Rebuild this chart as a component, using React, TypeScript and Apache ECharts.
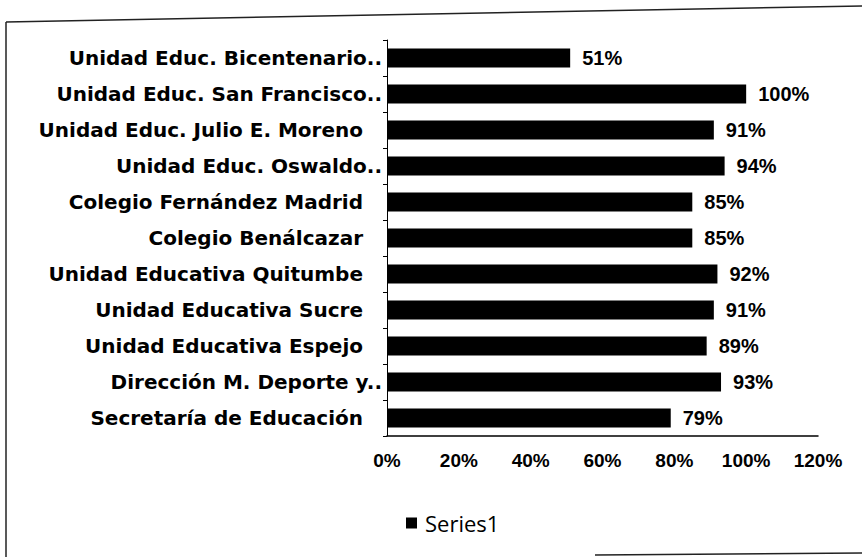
import React, { useEffect, useRef } from "react";
import * as echarts from "echarts";

const categories = [
  "Unidad Educ. Bicentenario..",
  "Unidad Educ. San Francisco..",
  "Unidad Educ. Julio E. Moreno",
  "Unidad Educ. Oswaldo..",
  "Colegio Fernández Madrid",
  "Colegio Benálcazar",
  "Unidad Educativa Quitumbe",
  "Unidad Educativa Sucre",
  "Unidad Educativa Espejo",
  "Dirección M. Deporte y..",
  "Secretaría de Educación",
];
const values = [51, 100, 91, 94, 85, 85, 92, 91, 89, 93, 79];
const seriesName = "Series1";

export default function App() {
  const ref = useRef<HTMLDivElement>(null);
  useEffect(() => {
    if (!ref.current) return;
    const chart = echarts.init(ref.current, null, { renderer: "svg" });
    const catFont = {
      fontFamily: "DejaVu Sans",
      fontWeight: "bold" as const,
      fontSize: 20,
      color: "#000",
    };
    chart.setOption({
      animation: false,
      backgroundColor: "#fff",
      grid: { left: 387, top: 40, width: 431, height: 396, containLabel: false },
      legend: {
        data: [seriesName],
        left: 401,
        top: 507,
        icon: "rect",
        itemWidth: 11,
        itemHeight: 11,
        textStyle: {
          fontFamily: "Open Sans",
          fontSize: 22,
          color: "#000",
          padding: [0, 0, 0, 3],
        },
      },
      xAxis: {
        type: "value",
        min: 0,
        max: 120,
        interval: 20,
        axisLine: { show: true, lineStyle: { color: "#000", width: 1.5 } },
        axisTick: { show: false },
        splitLine: { show: false },
        axisLabel: {
          formatter: "{value}%",
          fontFamily: "Liberation Sans",
          fontWeight: "bold",
          fontSize: 19,
          color: "#000",
          margin: 15,
        },
      },
      yAxis: {
        type: "category",
        inverse: true,
        data: categories,
        axisLine: { show: true, lineStyle: { color: "#000", width: 1 } },
        axisTick: { show: true, length: 4, lineStyle: { color: "#000" } },
        axisLabel: {
          margin: 5,
          ...catFont,
          formatter: (v: string) =>
            v.endsWith("..") ? `{a|${v}}` : `{b|${v}}`,
          rich: {
            a: { ...catFont },
            b: { ...catFont, padding: [0, 19, 0, 0] },
          },
        },
      },
      series: [
        {
          name: seriesName,
          type: "bar",
          data: values,
          barWidth: 19,
          itemStyle: { color: "#000" },
          label: {
            show: true,
            position: "right",
            distance: 12,
            formatter: "{c}%",
            fontFamily: "Liberation Sans",
            fontWeight: "bold",
            fontSize: 20,
            color: "#000",
          },
        },
      ],
      graphic: [
        {
          type: "line",
          shape: { x1: 6, y1: 22, x2: 862, y2: 6 },
          style: { stroke: "#222", lineWidth: 1.5 },
          silent: true,
        },
        {
          type: "line",
          shape: { x1: 6, y1: 22, x2: 6, y2: 557 },
          style: { stroke: "#222", lineWidth: 1.5 },
          silent: true,
        },
        {
          type: "line",
          shape: { x1: 595, y1: 555, x2: 862, y2: 553 },
          style: { stroke: "#222", lineWidth: 1.5 },
          silent: true,
        },
      ],
    });
    return () => chart.dispose();
  }, []);
  return (
    <div
      ref={ref}
      style={{ position: "fixed", left: 0, top: 0, width: 862, height: 557 }}
    />
  );
}
